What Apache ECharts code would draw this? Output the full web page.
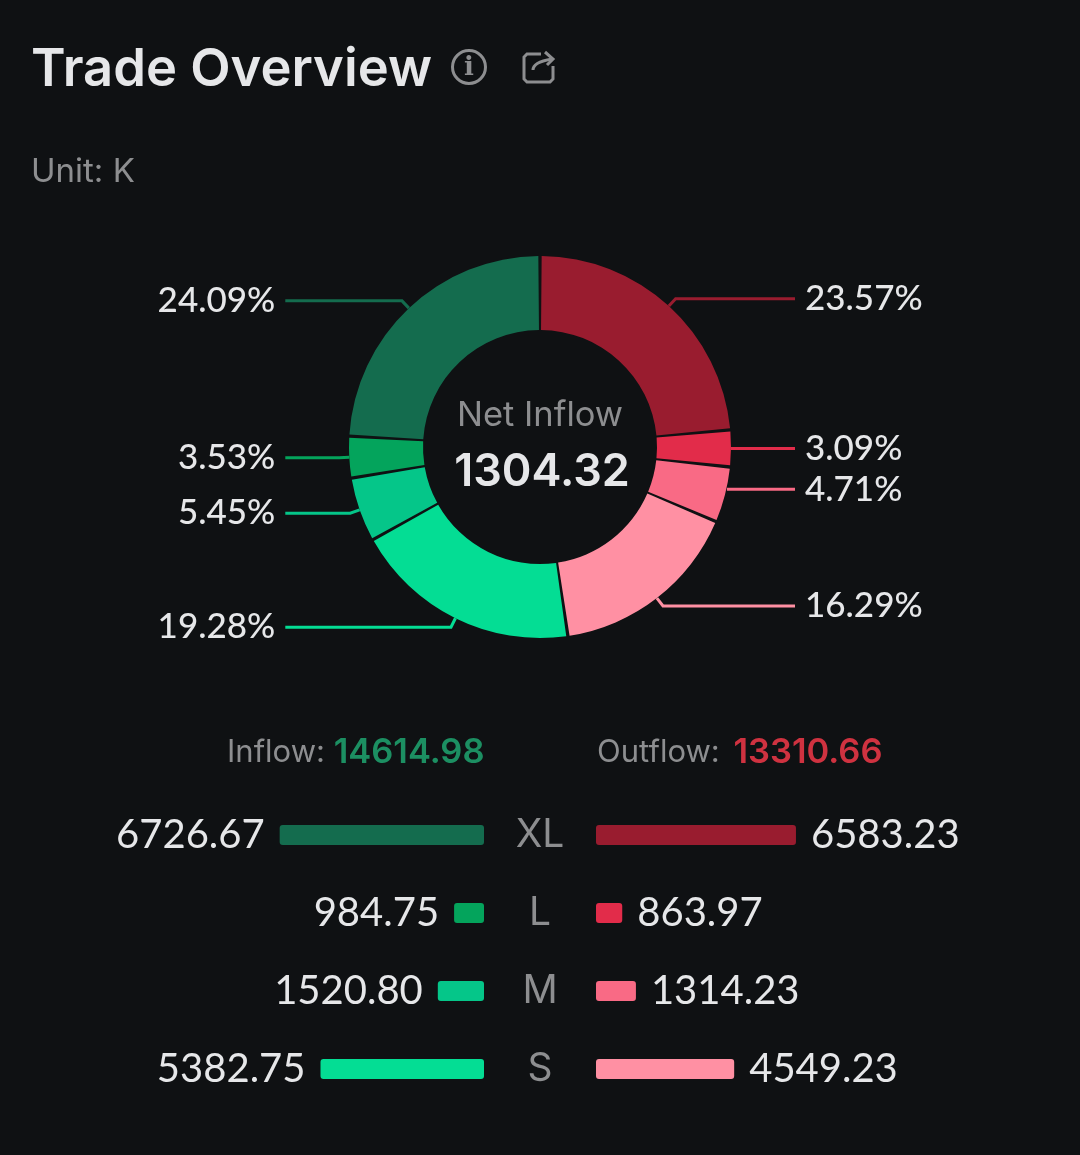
<!DOCTYPE html>
<html>
<head>
<meta charset="utf-8">
<title>Trade Overview</title>
<script src="https://cdn.jsdelivr.net/npm/echarts@6/dist/echarts.min.js"></script>
<style>
  html, body { margin: 0; padding: 0; background: #0f1113; }
  #chart { width: 1080px; height: 1155px; }
</style>
</head>
<body>
<div id="chart"></div>
<script>
var sizes = ['XL', 'L', 'M', 'S'];
var inflow = [6726.67, 984.75, 1520.80, 5382.75];
var outflow = [6583.23, 863.97, 1314.23, 4549.23];
var inflowPercent = ['24.09%', '3.53%', '5.45%', '19.28%'];
var outflowPercent = ['23.57%', '3.09%', '4.71%', '16.29%'];
var inflowColors = ['#146c4e', '#04a45c', '#05c689', '#04dd94'];
var outflowColors = ['#991c2f', '#e22c4a', '#f96a85', '#ff90a3'];
var inflowTotal = '14614.98';
var outflowTotal = '13310.66';
var netInflow = '1304.32';

var bg = '#0f1113';
var font = 'Inter, Lato, sans-serif';
var white = '#e6e7e9';
var grey = '#8d8e90';

// ring goes clockwise from the top: outflow XL..S and then inflow S..XL
var pieData = [];
outflow.forEach(function (v, i) {
  pieData.push({ name: sizes[i], value: v, pct: outflowPercent[i], itemStyle: { color: outflowColors[i] }, labelLine: { lineStyle: { color: outflowColors[i] } } });
});
for (var i = inflow.length - 1; i >= 0; i--) {
  pieData.push({ name: sizes[i], value: inflow[i], pct: inflowPercent[i], itemStyle: { color: inflowColors[i] }, labelLine: { lineStyle: { color: inflowColors[i] } } });
}

function barLabel(pos) {
  return {
    show: true,
    position: pos,
    distance: 15,
    color: white,
    fontFamily: 'Lato, sans-serif',
    fontSize: 40,
    formatter: function (p) { return p.value.toFixed(2); }
  };
}

function colorBars(values, colors, radius) {
  return values.map(function (v, i) {
    return { value: v, itemStyle: { color: colors[i], borderRadius: radius } };
  });
}

var iconStroke = { fill: 'none', stroke: grey, lineWidth: 3 };

var option = {
  backgroundColor: bg,
  animation: false,
  title: [
    { text: 'Trade Overview', left: 31, top: 44, padding: 0, textStyle: { color: white, fontFamily: font, fontSize: 52.5, fontWeight: 600 } },
    { text: 'Unit: K', left: 31, top: 156, padding: 0, textStyle: { color: grey, fontFamily: font, fontSize: 33, fontWeight: 400 } },
    { text: 'Net Inflow', left: 540, top: 398, padding: 0, textAlign: 'center', textStyle: { color: grey, fontFamily: font, fontSize: 34.5, fontWeight: 400 } },
    { text: netInflow, left: 542, top: 450, padding: 0, textAlign: 'center', textStyle: { color: white, fontFamily: font, fontSize: 45, fontWeight: 600 } },
    {
      text: '{a|Inflow: }{b|' + inflowTotal + '}', left: 227, top: 735, padding: 0,
      textStyle: { fontWeight: 400, rich: {
        a: { color: grey, fontFamily: font, fontSize: 31, fontWeight: 400 },
        b: { color: '#1c8f62', fontFamily: font, fontSize: 34.5, fontWeight: 600 }
      } }
    },
    {
      text: '{a|Outflow: }{b|' + outflowTotal + '}', left: 597, top: 735, padding: 0,
      textStyle: { fontWeight: 400, rich: {
        a: { color: grey, fontFamily: font, fontSize: 31, fontWeight: 400 },
        b: { color: '#cf3240', fontFamily: font, fontSize: 34.5, fontWeight: 600, padding: [0, 0, 0, 5] }
      } }
    }
  ],
  graphic: [
    { type: 'circle', shape: { cx: 469, cy: 67, r: 16.5 }, style: iconStroke },
    { type: 'text', style: { x: 469, y: 68, text: 'i', fill: grey, fontSize: 26, fontWeight: 'bold', fontFamily: 'DejaVu Serif', align: 'center', verticalAlign: 'middle' } },
    { type: 'polyline', shape: { points: [[541, 54], [527, 54], [524, 57], [524, 79], [527, 82], [550, 82], [553, 79], [553, 66]] }, style: iconStroke },
    { type: 'bezierCurve', shape: { x1: 533, y1: 70, x2: 552, y2: 59, cpx1: 533, cpy1: 62 }, style: iconStroke },
    { type: 'polyline', shape: { points: [[545, 52], [553, 59], [547, 65]] }, style: iconStroke }
  ],
  grid: [
    { left: 241, top: 796, width: 243, height: 312 },
    { left: 596, top: 796, width: 243, height: 312 }
  ],
  xAxis: [
    { type: 'value', gridIndex: 0, min: 0, max: 8000, inverse: true, show: false },
    { type: 'value', gridIndex: 1, min: 0, max: 8000, show: false }
  ],
  yAxis: [
    { type: 'category', gridIndex: 0, data: sizes, inverse: true, show: false },
    {
      type: 'category', gridIndex: 1, data: sizes, inverse: true,
      axisLine: { show: false }, axisTick: { show: false },
      axisLabel: { color: grey, fontFamily: font, fontSize: 39, align: 'center', margin: 56 }
    }
  ],
  series: [
    {
      type: 'pie',
      center: [540, 447],
      radius: [117, 191],
      startAngle: 90,
      clockwise: true,
      padAngle: 1,
      data: pieData,
      label: {
        show: true,
        alignTo: 'labelLine',
        bleedMargin: 0,
        distanceToLabelLine: 10,
        color: white,
        fontFamily: 'Lato, sans-serif',
        fontSize: 35,
        fontWeight: 500,
        formatter: function (p) { return p.data.pct; }
      },
      labelLine: { show: true, length: 10, length2: 54, lineStyle: { width: 3 } },
      // the 4.71% leader sits a bit higher and runs flat out of the ring
      labelLayout: function (params) {
        if (params.dataIndex !== 2 || !params.labelLinePoints) return {};
        var pts = params.labelLinePoints;
        var y = pts[2][1] - 8;
        return {
          y: y,
          labelLinePoints: [[pts[0][0] + 2, y], [pts[1][0], y], [pts[2][0], y]]
        };
      },
      emphasis: { disabled: true }
    },
    {
      type: 'bar', xAxisIndex: 0, yAxisIndex: 0, barWidth: 20,
      data: colorBars(inflow, inflowColors, 3),
      label: barLabel('left')
    },
    {
      type: 'bar', xAxisIndex: 1, yAxisIndex: 1, barWidth: 20,
      data: colorBars(outflow, outflowColors, 3),
      label: barLabel('right')
    }
  ]
};

var myChart = echarts.init(document.getElementById('chart'));
myChart.setOption(option);
</script>
</body>
</html>
